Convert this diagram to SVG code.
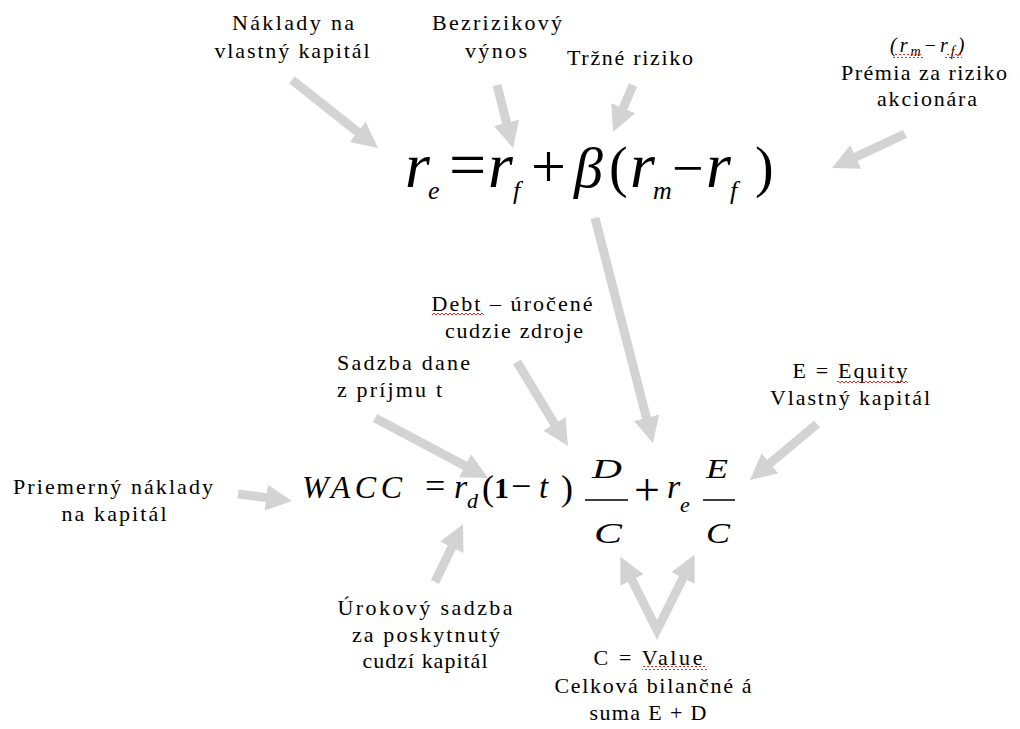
<svg xmlns="http://www.w3.org/2000/svg" width="1020" height="729" viewBox="0 0 1020 729">
<style>
.lbl{font-family:"Liberation Serif","Times New Roman",serif;font-size:22px;fill:#000;text-anchor:middle}
.lbs{font-family:"Liberation Serif","Times New Roman",serif;font-size:22px;fill:#000}
.m{font-family:"Liberation Serif","Times New Roman",serif;fill:#000}
.i{font-style:italic}
.arr{fill:none;stroke:#d3d3d3;stroke-width:9;marker-end:url(#ah)}
.wave{fill:url(#wv)}
</style>
<defs>
<marker id="ah" markerUnits="userSpaceOnUse" viewBox="0 -14 28 28" refX="2" refY="0" markerWidth="28" markerHeight="28" orient="auto-start-reverse">
<path d="M0,-13 L26,0 L0,13 z" fill="#d3d3d3"/>
</marker>
<pattern id="wv" patternUnits="userSpaceOnUse" width="4" height="4">
<path d="M0,3 L2,1 L4,3" fill="none" stroke="#e01010" stroke-width="0.9"/>
</pattern>
</defs>
<rect width="1020" height="729" fill="#fff"/>

<g id="connectors">
<line class="arr" x1="292" y1="80" x2="359.2" y2="133.1"/>
<line class="arr" x1="497" y1="85" x2="507.1" y2="124.7"/>
<line class="arr" x1="633" y1="85" x2="622.4" y2="109.9"/>
<line class="arr" x1="905" y1="134" x2="853.8" y2="157.9"/>
<line class="arr" x1="595" y1="218" x2="647" y2="419.8"/>
<line class="arr" x1="517" y1="362" x2="555.5" y2="425.5"/>
<line class="arr" x1="375" y1="418" x2="466.8" y2="466.7"/>
<line class="arr" x1="817" y1="424" x2="768.4" y2="464.6"/>
<line class="arr" x1="238" y1="494" x2="268.2" y2="497.9"/>
<line class="arr" x1="435" y1="582" x2="452.6" y2="545.6"/>
<path class="arr" style="marker-start:url(#ah)" d="M631.1,578.3 L657,630 L683.9,576.3"/>
</g>

<g id="node-naklady">
<text class="lbl" x="293" y="30" textLength="122" lengthAdjust="spacing">Náklady na</text>
<text class="lbl" x="292" y="58" textLength="155" lengthAdjust="spacing">vlastný kapitál</text>
</g>
<g id="node-bezrizikovy">
<text class="lbl" x="497" y="30" textLength="130" lengthAdjust="spacing">Bezrizikový</text>
<text class="lbl" x="496" y="58" textLength="62" lengthAdjust="spacing">výnos</text>
</g>
<g id="node-trzne">
<text class="lbl" x="630" y="65" textLength="126" lengthAdjust="spacing">Tržné riziko</text>
</g>
<g id="node-premia">
<text class="m i" x="890" y="52" font-size="20" letter-spacing="3">(r<tspan font-size="14" dy="4">m</tspan><tspan dy="-4">−r</tspan><tspan font-size="14" dy="4">f</tspan><tspan dy="-4">)</tspan></text>
<rect class="wave" x="893" y="54" width="30" height="4"/>
<rect class="wave" x="945" y="54" width="17" height="4"/>
<text class="lbl" x="924" y="80" textLength="166" lengthAdjust="spacing">Prémia za riziko</text>
<text class="lbl" x="927" y="106" textLength="100" lengthAdjust="spacing">akcionára</text>
</g>

<g id="node-capm">
<text class="m i" x="405" y="187" font-size="64">r</text>
<text class="m i" x="428" y="199" font-size="26">e</text>
<text class="m" x="449" y="187" font-size="66">=</text>
<text class="m i" x="488" y="187" font-size="64">r</text>
<text class="m i" x="513" y="199" font-size="26">f</text>
<text class="m" x="531" y="187" font-size="62">+</text>
<text class="m i" x="574" y="187" font-size="58">β</text>
<text class="m" x="609" y="186" font-size="56">(</text>
<text class="m i" x="630" y="187" font-size="64">r</text>
<text class="m i" x="653" y="199" font-size="26">m</text>
<text class="m" x="672" y="187" font-size="56">−</text>
<text class="m i" x="706" y="187" font-size="64">r</text>
<text class="m i" x="730" y="199" font-size="26">f</text>
<text class="m" x="755" y="186" font-size="56">)</text>
</g>

<g id="node-debt">
<text class="lbl" x="512" y="311" textLength="161" lengthAdjust="spacing">Debt – úročené</text>
<rect class="wave" x="432" y="312" width="52" height="4"/>
<text class="lbl" x="514" y="338" textLength="138" lengthAdjust="spacing">cudzie zdroje</text>
</g>
<g id="node-sadzba">
<text class="lbs" x="337" y="370" textLength="133" lengthAdjust="spacing">Sadzba dane</text>
<text class="lbs" x="337" y="397" textLength="105" lengthAdjust="spacing">z príjmu t</text>
</g>
<g id="node-equity">
<text class="lbl" x="850" y="378" textLength="115" lengthAdjust="spacing">E = Equity</text>
<rect class="wave" x="837" y="379" width="71" height="4"/>
<text class="lbl" x="850" y="405" textLength="160" lengthAdjust="spacing">Vlastný kapitál</text>
</g>
<g id="node-priemerny">
<text class="lbl" x="113" y="494" textLength="200" lengthAdjust="spacing">Priemerný náklady</text>
<text class="lbl" x="114" y="521" textLength="105" lengthAdjust="spacing">na kapitál</text>
</g>

<g id="node-wacc">
<text class="m i" x="302" y="498" font-size="32" textLength="100" lengthAdjust="spacing">WACC</text>
<text class="m" x="425" y="498" font-size="36">=</text>
<text class="m i" x="454" y="498" font-size="34">r</text>
<text class="m i" x="467" y="508" font-size="22">d</text>
<text class="m" x="482" y="500" font-size="36">(</text>
<text class="m" x="494" y="498" font-size="30" font-weight="bold">1</text>
<text class="m" x="511" y="498" font-size="36">−</text>
<text class="m i" x="539" y="498" font-size="33">t</text>
<text class="m" x="561" y="500" font-size="36">)</text>
<text class="m i" x="592" y="478" font-size="28" textLength="30" lengthAdjust="spacingAndGlyphs">D</text>
<line x1="585" y1="500" x2="628" y2="500" stroke="#000" stroke-width="1.5"/>
<text class="m i" x="594" y="543" font-size="30" textLength="28" lengthAdjust="spacingAndGlyphs">C</text>
<text class="m" x="634" y="505" font-size="46">+</text>
<text class="m i" x="667" y="498" font-size="34">r</text>
<text class="m i" x="680" y="512" font-size="22">e</text>
<text class="m i" x="706" y="478" font-size="28" textLength="22" lengthAdjust="spacingAndGlyphs">E</text>
<line x1="703" y1="500" x2="735" y2="500" stroke="#000" stroke-width="1.5"/>
<text class="m i" x="706" y="543" font-size="30" textLength="24" lengthAdjust="spacingAndGlyphs">C</text>
</g>

<g id="node-urokovy">
<text class="lbl" x="425" y="615" textLength="175" lengthAdjust="spacing">Úrokový sadzba</text>
<text class="lbl" x="426" y="642" textLength="148" lengthAdjust="spacing">za poskytnutý</text>
<text class="lbl" x="425" y="668" textLength="125" lengthAdjust="spacing">cudzí kapitál</text>
</g>
<g id="node-value">
<text class="lbl" x="648" y="665" textLength="109" lengthAdjust="spacing">C = Value</text>
<rect class="wave" x="642" y="666" width="65" height="4"/>
<text class="lbl" x="653" y="693" textLength="197" lengthAdjust="spacing">Celková bilančné á</text>
<text class="lbl" x="648" y="720" textLength="117" lengthAdjust="spacing">suma E + D</text>
</g>
</svg>
